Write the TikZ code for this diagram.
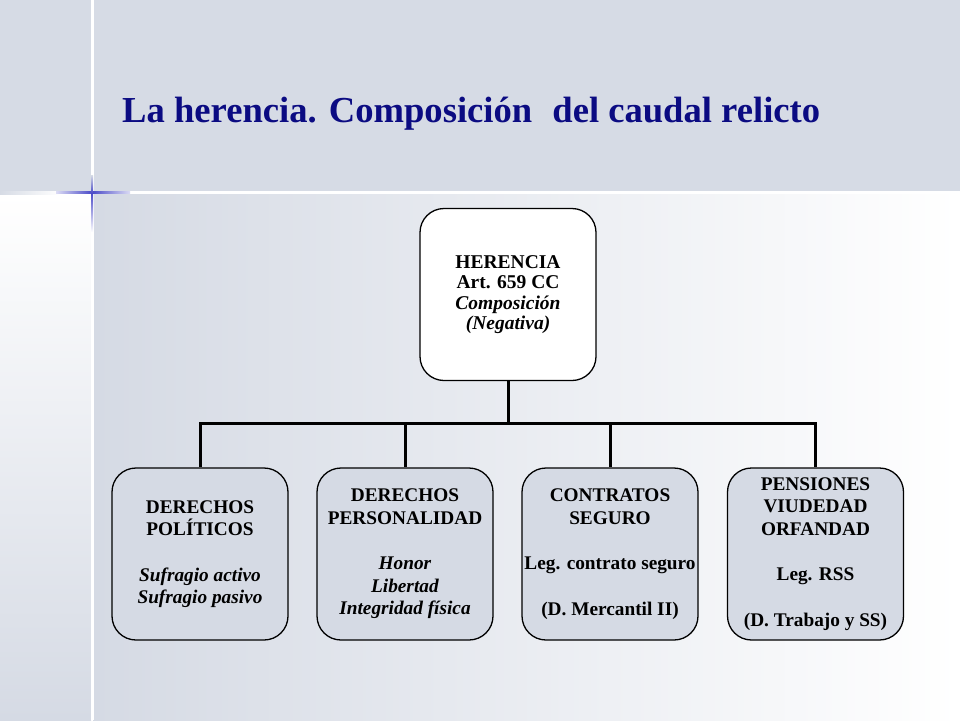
\documentclass[tikz,border=0pt]{standalone}
\usepackage{fontspec}
\setmainfont{Liberation Serif}
\usetikzlibrary{calc}
\definecolor{bandgray}{HTML}{D6DBE5}
\definecolor{boxgray}{HTML}{D5DAE4}
\definecolor{titleblue}{HTML}{0B0B82}
\definecolor{accentblue}{HTML}{4A4AC8}
\tikzset{
  box/.style={draw=black, line width=1.3pt, rounded corners=24pt, minimum width=176pt,
    minimum height=172pt, align=center, inner sep=0pt,
    font=\bfseries\fontsize{19.3}{22.5}\selectfont},
  topbox/.style={box, fill=white, font=\bfseries\fontsize{19.5}{20.5}\selectfont},
  subbox/.style={box, fill=boxgray},
  conn/.style={draw=black, line width=3pt}
}
\begin{document}
\begin{tikzpicture}[x=1pt,y=-1pt]
\useasboundingbox (0,0) rectangle (960,720);
% backgrounds
\fill[bandgray] (0,0) rectangle (960,192);
\shade[left color=boxgray, right color=white] (93,194) rectangle (960,720);
\shade[top color=white, bottom color=boxgray] (0,194) rectangle (91,720);
% white rules
\fill[white] (0,191) rectangle (960,194);
\fill[white] (91,0) rectangle (93.5,720);
\shade[left color=bandgray, right color=white] (0,191) rectangle (60,194);
% blue accents
\shade[left color=accentblue!20, right color=accentblue] (56,191.5) rectangle (92,193.5);
\shade[left color=accentblue, right color=accentblue!20] (92,191.5) rectangle (130,193.5);
\shade[top color=bandgray, bottom color=accentblue] (91.2,175) rectangle (93.2,193);
\shade[top color=accentblue, bottom color=white] (91.2,193) rectangle (93.2,232);
% title
\node[anchor=base west, inner sep=0pt, text=titleblue,
  font=\bfseries\fontsize{36.6}{40}\selectfont] (title) at (122,122)
  {La herencia. Composición\hspace{0.3em} del caudal relicto};
% boxes
\node[topbox] (her) at (508,294.5)
  {HERENCIA\\Art. 659 CC\\\textit{Composición}\\\textit{(Negativa)}};
\node[subbox] (b1) at (200,554)
  {DERECHOS\\POLÍTICOS\\[23pt]\textit{Sufragio activo}\\\textit{Sufragio pasivo}};
\node[subbox] (b2) at (405,554)
  {DERECHOS\\PERSONALIDAD\\[23pt]\textit{Honor}\\\textit{Libertad}\\\textit{Integridad física}};
\node[subbox] (b3) at (610,554)
  {CONTRATOS\\SEGURO\\[23pt]Leg. contrato seguro\\[23pt](D. Mercantil II)};
\node[subbox] (b4) at (815.5,554)
  {PENSIONES\\VIUDEDAD\\ORFANDAD\\[23pt]Leg. RSS\\[23pt](D. Trabajo y SS)};
% connectors
\draw[conn] (her.south) -- ++(0,42) coordinate (bus);
\draw[conn, line cap=rect] (bus -| b1.north) -- (bus -| b4.north);
\foreach \b in {b1,b2,b3,b4}{
  \draw[conn] (bus -| \b.north) -- (\b.north);
}
\end{tikzpicture}
\end{document}
